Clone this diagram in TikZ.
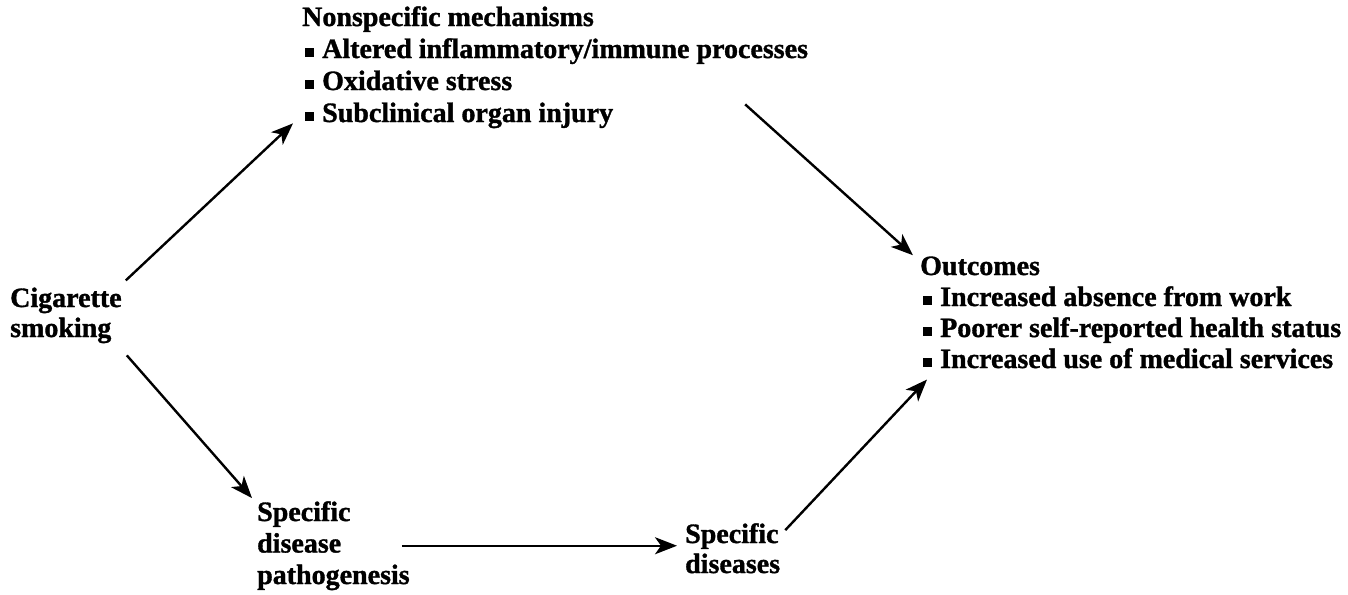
\documentclass[tikz,border=0pt]{standalone}
\usepackage{fontspec}
\setmainfont{Liberation Serif}[BoldFeatures={FakeBold=1.2}]
\usetikzlibrary{arrows.meta}
\newcommand{\sqb}{\hspace*{3pt}\rule[1.5pt]{9pt}{9pt}\hspace{8pt}}
\tikzset{
  lbl/.style={anchor=base west, inner sep=0pt, align=left,
    font=\fontsize{28}{32}\selectfont\bfseries},
  arr/.style={line width=2.4pt, -{Stealth[length=22pt,width=17pt,inset=6pt]}}
}
\begin{document}
\begin{tikzpicture}[x=1pt,y=-1pt]
\useasboundingbox (0,0) rectangle (1348,594);
\node[lbl, font=\fontsize{28}{30}\selectfont\bfseries] (cig) at (10,337) {Cigarette\\smoking};
\node[lbl] (nonspec) at (302,122) {Nonspecific mechanisms\\
\sqb Altered inflammatory/immune processes\\
\sqb Oxidative stress\\
\sqb Subclinical organ injury};
\node[lbl, font=\fontsize{28}{31}\selectfont\bfseries] (outc) at (920,368) {Outcomes\\
\sqb Increased absence from work\\
\sqb Poorer self-reported health status\\
\sqb Increased use of medical services};
\node[lbl, font=\fontsize{28}{31.5}\selectfont\bfseries] (sdp) at (257,584) {Specific\\disease\\pathogenesis};
\node[lbl, font=\fontsize{28}{30}\selectfont\bfseries] (sd) at (685,573) {Specific\\diseases};
\coordinate (a1s) at ([xshift=4pt,yshift=7pt]cig.north east);
\coordinate (a1e) at ([xshift=-9pt,yshift=5pt]nonspec.south west);
\coordinate (a2s) at ([xshift=-63pt,yshift=24pt]nonspec.south east);
\coordinate (a2e) at ([xshift=-7pt,yshift=1pt]outc.north west);
\coordinate (a3s) at ([xshift=5pt,yshift=-12pt]cig.south east);
\coordinate (a3e) at ([xshift=-5pt,yshift=3pt]sdp.north west);
\coordinate (a4s) at ([xshift=-8pt]sdp.east);
\coordinate (a4e) at ([xshift=-8pt]sdp.east -| sd.west);
\coordinate (a5s) at ([xshift=5pt,yshift=-7pt]sd.north east);
\coordinate (a5e) at ([xshift=7pt,yshift=-11pt]outc.south west);
\draw[arr] (a1s) -- (a1e);
\draw[arr] (a2s) -- (a2e);
\draw[arr] (a3s) -- (a3e);
\draw[arr] (a4s) -- (a4e);
\draw[arr] (a5s) -- (a5e);
\end{tikzpicture}
\end{document}
